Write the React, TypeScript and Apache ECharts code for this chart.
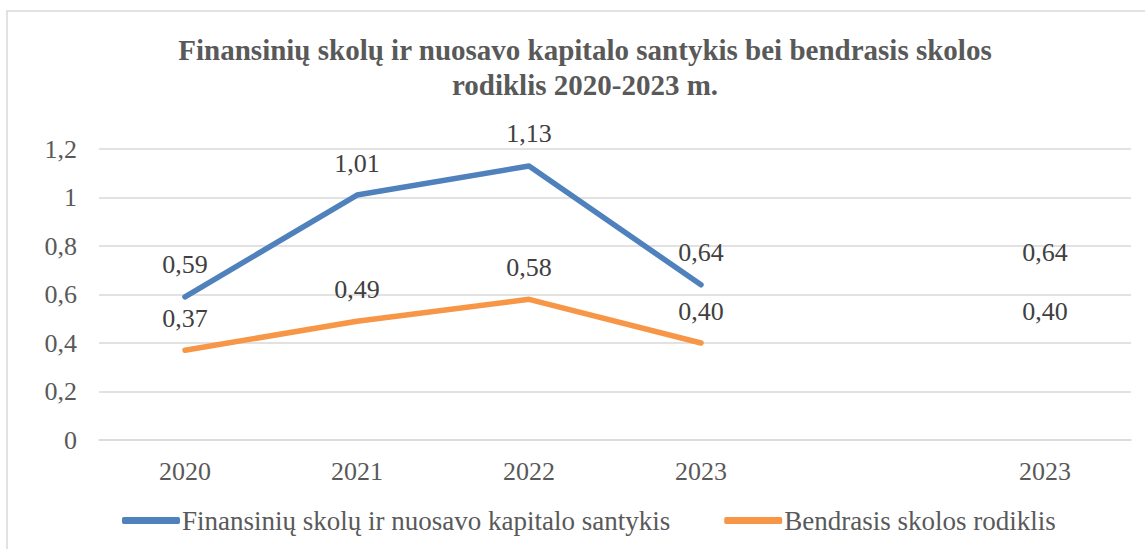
import React, { useEffect, useRef } from "react";
import * as echarts from "echarts";

const categories = ["2020", "2021", "2022", "2023", "", "2023"];
const seriesNames = [
  "Finansinių skolų ir nuosavo kapitalo santykis",
  "Bendrasis skolos rodiklis",
];
const debtEquity = [0.59, 1.01, 1.13, 0.64, null, 0.64];
const totalDebt = [0.37, 0.49, 0.58, 0.4, null, 0.4];
const titleText =
  "Finansinių skolų ir nuosavo kapitalo santykis bei bendrasis skolos\nrodiklis 2020-2023 m.";

const FONT = "Liberation Serif";
const BLUE = "#4F81BD";
const ORANGE = "#F79646";

export default function App() {
  const ref = useRef<HTMLDivElement>(null);
  useEffect(() => {
    if (!ref.current) return;
    const chart = echarts.init(ref.current, null, { renderer: "svg" });
    const fmt = (v: any) =>
      v == null ? "" : Number(v).toFixed(2).replace(".", ",");
    const mkSeries = (name: string, data: any[], color: string) => ({
      name,
      type: "line",
      data,
      symbol: "circle",
      symbolSize: 0,
      showSymbol: true,
      connectNulls: false,
      itemStyle: { color },
      lineStyle: { color, width: 5.5, cap: "round", join: "round" },
      label: {
        show: true,
        position: "top",
        distance: 19,
        fontFamily: FONT,
        fontSize: 26,
        color: "#404040",
        formatter: (p: any) => fmt(p.value),
      },
      emphasis: { disabled: true },
    });
    chart.setOption({
      animation: false,
      backgroundColor: "#ffffff",
      textStyle: { fontFamily: FONT },
      title: {
        text: titleText,
        left: 585,
        top: 32,
        padding: 0,
        textAlign: "center",
        textStyle: {
          fontFamily: FONT,
          fontSize: 29,
          fontWeight: "bold",
          color: "#595959",
          lineHeight: 35,
        },
      },
      graphic: [
        {
          type: "rect",
          shape: { x: 7, y: 11, width: 1160, height: 560 },
          style: { fill: "none", stroke: "#d9d9d9", lineWidth: 1.5 },
          silent: true,
          z: -1,
        },
      ],
      legend: {
        left: 122,
        top: 507,
        padding: 0,
        itemGap: 54,
        itemWidth: 58,
        itemHeight: 7,
        icon: "roundRect",
        data: [
          { name: seriesNames[0], itemStyle: { color: BLUE } },
          { name: seriesNames[1], itemStyle: { color: ORANGE } },
        ],
        textStyle: {
          fontFamily: FONT,
          fontSize: 27,
          color: "#595959",
          padding: [0, 0, 0, -3],
        },
      },
      grid: { left: 99, right: 14, top: 149, bottom: 109, containLabel: false },
      xAxis: {
        type: "category",
        data: categories,
        boundaryGap: true,
        axisLine: { show: true, lineStyle: { color: "#d9d9d9", width: 1.5 } },
        axisTick: { show: false },
        axisLabel: {
          margin: 18,
          interval: 0,
          fontFamily: FONT,
          fontSize: 26,
          color: "#595959",
        },
      },
      yAxis: {
        type: "value",
        min: 0,
        max: 1.2,
        interval: 0.2,
        axisLine: { show: false },
        axisTick: { show: false },
        splitLine: { lineStyle: { color: "#d9d9d9", width: 1.5 } },
        axisLabel: {
          margin: 22,
          fontFamily: FONT,
          fontSize: 26,
          color: "#595959",
          formatter: (v: number) =>
            String(Math.round(v * 10) / 10).replace(".", ","),
        },
      },
      series: [
        mkSeries(seriesNames[0], debtEquity, BLUE),
        mkSeries(seriesNames[1], totalDebt, ORANGE),
      ],
    });
    return () => chart.dispose();
  }, []);
  return (
    <div
      ref={ref}
      style={{ position: "fixed", left: 0, top: 0, width: 1145, height: 549 }}
    />
  );
}
